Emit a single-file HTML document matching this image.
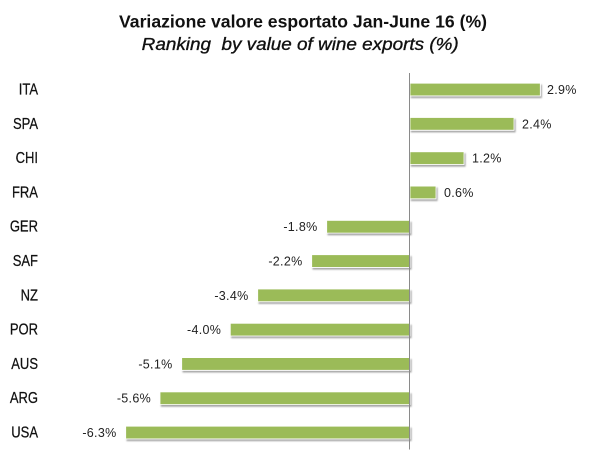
<!DOCTYPE html>
<html>
<head>
<meta charset="utf-8">
<style>
  html, body { margin: 0; padding: 0; background: #ffffff; }
  body { width: 603px; height: 464px; overflow: hidden; }
  svg { display: block; }
  .ttl { font-family: "Liberation Sans", Arial, sans-serif; fill: #111; }
  .cat { font-family: "Liberation Sans", Arial, sans-serif; font-size: 15.5px; fill: #111; stroke: #111; stroke-width: 0.25; }
  .val { font-family: "Liberation Sans", Arial, sans-serif; font-size: 12.5px; fill: #222; letter-spacing: 0.3px; }
</style>
</head>
<body>
<svg width="603" height="464" viewBox="0 0 603 464" xmlns="http://www.w3.org/2000/svg">
  <defs>
    <filter id="sh" x="-5%" y="-40%" width="110%" height="200%">
      <feDropShadow dx="1.2" dy="1.8" stdDeviation="0.9" flood-color="#000" flood-opacity="0.35"/>
    </filter>
  </defs>

  <!-- Title -->
  <text class="ttl" x="119" y="27.7" font-size="17.5" font-weight="bold" textLength="368" lengthAdjust="spacingAndGlyphs">Variazione valore esportato Jan-June 16 (%)</text>
  <text class="ttl" x="141.7" y="50" font-size="17.5" font-style="italic" stroke="#111" stroke-width="0.35" textLength="317" lengthAdjust="spacingAndGlyphs" xml:space="preserve">Ranking  by value of wine exports (%)</text>

  <!-- Bars -->
  <g fill="#9BBB59" stroke="#ffffff" stroke-width="0.8" filter="url(#sh)">
    <rect x="410" y="83.2" width="130.3" height="12.7"/>
    <rect x="410" y="117.5" width="104" height="12.7"/>
    <rect x="410" y="151.8" width="54" height="12.7"/>
    <rect x="410" y="186.1" width="26" height="12.7"/>
    <rect x="326.7" y="220.4" width="83.3" height="12.7"/>
    <rect x="311.7" y="254.7" width="98.3" height="12.7"/>
    <rect x="257.7" y="289.0" width="152.3" height="12.7"/>
    <rect x="230.3" y="323.3" width="179.7" height="12.7"/>
    <rect x="181.7" y="357.6" width="228.3" height="12.7"/>
    <rect x="160" y="391.9" width="250" height="12.7"/>
    <rect x="125.7" y="426.2" width="284.3" height="12.7"/>
  </g>

  <!-- Axis -->
  <line x1="409.5" y1="73" x2="409.5" y2="449.5" stroke="#8a8a8a" stroke-width="1"/>

  <!-- Category labels (condensed) -->
  <g transform="translate(38,0) scale(0.84,1)">
    <text class="cat" x="0" y="94.5" text-anchor="end">ITA</text>
    <text class="cat" x="0" y="128.8" text-anchor="end">SPA</text>
    <text class="cat" x="0" y="163.1" text-anchor="end">CHI</text>
    <text class="cat" x="0" y="197.4" text-anchor="end">FRA</text>
    <text class="cat" x="0" y="231.7" text-anchor="end">GER</text>
    <text class="cat" x="0" y="266.0" text-anchor="end">SAF</text>
    <text class="cat" x="0" y="300.3" text-anchor="end">NZ</text>
    <text class="cat" x="0" y="334.6" text-anchor="end">POR</text>
    <text class="cat" x="0" y="368.9" text-anchor="end">AUS</text>
    <text class="cat" x="0" y="403.2" text-anchor="end">ARG</text>
    <text class="cat" x="0" y="437.5" text-anchor="end">USA</text>
  </g>

  <!-- Value labels -->
  <text class="val" x="547" y="94" text-anchor="start">2.9%</text>
  <text class="val" x="522" y="128.3" text-anchor="start">2.4%</text>
  <text class="val" x="472" y="162.6" text-anchor="start">1.2%</text>
  <text class="val" x="444" y="196.9" text-anchor="start">0.6%</text>
  <text class="val" x="317.5" y="231.2" text-anchor="end">-1.8%</text>
  <text class="val" x="302.5" y="265.5" text-anchor="end">-2.2%</text>
  <text class="val" x="248.5" y="299.8" text-anchor="end">-3.4%</text>
  <text class="val" x="221.2" y="334.1" text-anchor="end">-4.0%</text>
  <text class="val" x="172.5" y="368.4" text-anchor="end">-5.1%</text>
  <text class="val" x="151" y="402.7" text-anchor="end">-5.6%</text>
  <text class="val" x="116.5" y="437" text-anchor="end">-6.3%</text>
</svg>
</body>
</html>
